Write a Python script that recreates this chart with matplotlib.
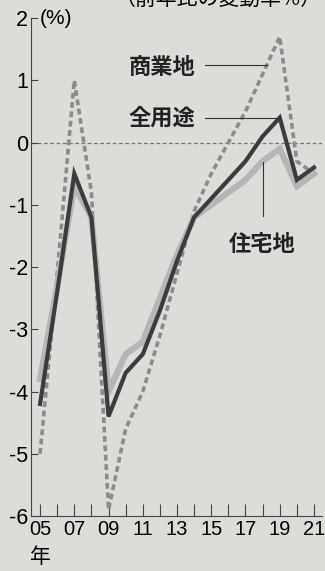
import numpy as np
import matplotlib
matplotlib.use('Agg')
import matplotlib.pyplot as plt

plt.rcParams['font.family'] = ['Liberation Sans', 'Noto Sans CJK JP']

years = np.arange(2005, 2022)
zenyoto = [-4.2, -2.4, -0.5, -1.2, -4.4, -3.7, -3.4, -2.7, -1.9, -1.2, -0.9, -0.6, -0.3, 0.1, 0.4, -0.6, -0.4]
jutaku = [-3.8, -2.3, -0.7, -1.2, -4.0, -3.4, -3.2, -2.5, -1.8, -1.2, -1.0, -0.8, -0.6, -0.3, -0.1, -0.7, -0.5]
shogyo = [-5.0, -2.1, 1.0, -0.8, -5.9, -4.6, -4.0, -3.1, -2.1, -1.1, -0.5, 0.0, 0.5, 1.1, 1.7, -0.3, -0.5]
yticks = [2, 1, 0, -1, -2, -3, -4, -5, -6]

bg = '#dcddd9'
W, H = 325, 571
fig = plt.figure(figsize=(W / 100, H / 100), dpi=100, facecolor=bg)
ax = fig.add_axes([31 / W, 1 - 516 / H, (322 - 31) / W, (516 - 15) / H])
ax.set_facecolor(bg)

ax.axhline(0, color='#777777', lw=0.9, ls=(0, (3, 2)), zorder=1)
ax.plot(years, shogyo, color='#8c8c8c', lw=2.6, ls=(0, (1.6, 1.0)), zorder=2)
ax.plot(years, jutaku, color='#b6b6b6', lw=4.5, solid_joinstyle='miter', zorder=3)
ax.plot(years, zenyoto, color='#3c3c3c', lw=3.0, solid_joinstyle='miter', zorder=4)

ax.set_xlim(2004.47, 2021.47)
ax.set_ylim(-6, 2.05)
for s in ['top', 'right']:
    ax.spines[s].set_visible(False)
ax.spines['left'].set_color('#444444')
ax.spines['bottom'].set_color('#444444')
ax.spines['left'].set_bounds(-6, 2)

ax.set_yticks(yticks)
ax.set_yticklabels([str(v) for v in yticks], fontsize=15.5)
ax.tick_params(axis='y', direction='in', length=5, pad=2, color='#444444')
ax.set_xticks(years)
ax.set_xticklabels([str(y)[2:] if (y - 2005) % 2 == 0 else '' for y in years], fontsize=14.5)
ax.tick_params(axis='x', direction='in', length=9, pad=3, color='#444444')

fig.text(40 / W, 1 - 557 / H, '年', fontsize=15, ha='center', va='center',
         family=['Noto Sans CJK JP'])
fig.text(40 / W, 1 - 18 / H, '(%)', fontsize=15, ha='left', va='center')
fig.text(322 / W, 1 + 1 / H, '（前年比の変動率%）', fontsize=15, ha='right', va='center',
         family=['Noto Sans CJK JP'])

lab = dict(fontsize=16, fontweight='bold', family=['Noto Sans CJK JP'], va='center',
           ha='center', color='#222222')
ax.text(2012.1, 1.2, '商業地', **lab)
ax.plot([2014.63, 2018.25], [1.25, 1.25], color='#333333', lw=0.8, zorder=5)
ax.text(2012.1, 0.4, '全用途', **lab)
ax.plot([2014.63, 2019.0], [0.4, 0.4], color='#333333', lw=0.8, zorder=5)
ax.text(2018.0, -1.63, '住宅地', **lab)
ax.plot([2018.02, 2018.02], [-0.32, -1.18], color='#333333', lw=0.8, zorder=5)

fig.savefig('out.png', dpi=100, facecolor=bg)
